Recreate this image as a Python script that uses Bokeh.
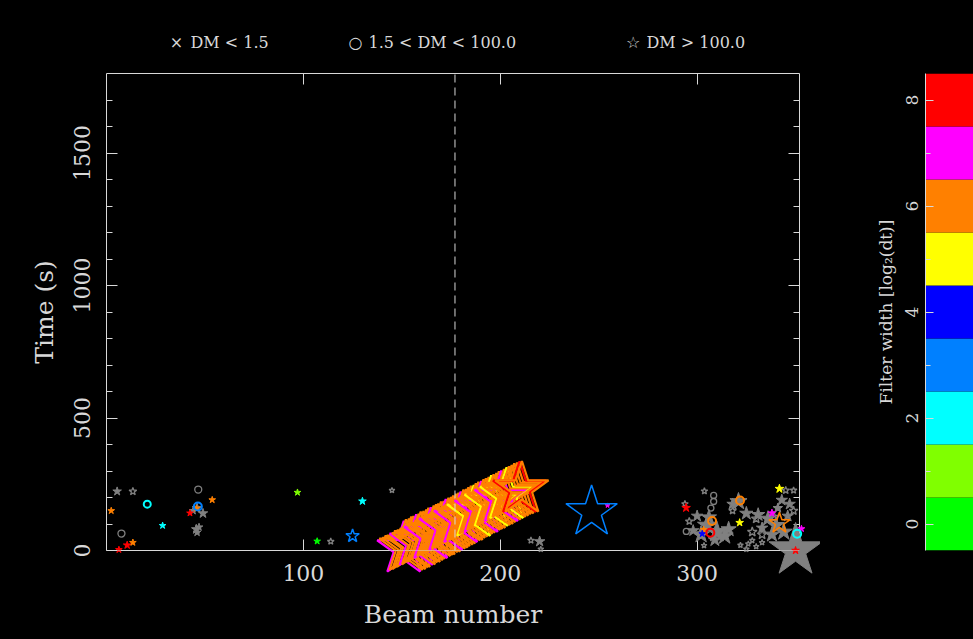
from bokeh.plotting import figure
from bokeh.layouts import row, column
from bokeh.models import (Range1d, LinearAxis, FixedTicker, Grid, Span,
                          CustomJSTickFormatter, ColumnDataSource)
from bokeh.core.properties import value
from bokeh.embed import file_html
from bokeh.resources import INLINE

# ---- palette: one colour per boxcar filter width, log2(dt) = 0 .. 8 ----
width_levels = [0, 1, 2, 3, 4, 5, 6, 7, 8]
width_colors = ["#00ff00", "#80ff00", "#00ffff", "#0080ff", "#0000ff",
                "#ffff00", "#ff8000", "#ff00ff", "#ff0000"]
GRAY = "#808080"          # candidates below the detection threshold
FG = "#d8d8d8"            # axes / text

# ---- candidates with DM > 100 (stars) ----
star_beam = [2.4, 28.5, 10.5, 13.4, 6.3, 53.7, 45.7, 42.4,
             97.0, 130.0, 107.0, 125.0, 246.4, 254.5,
             294.4, 303.3, 302.6, 321.6, 341.8, 338.0, 341.8, 353.0, 350.0]
star_time = [150, 94, 20, 30, 3, 191, 159, 141,
             219, 186, 35, 55, 145, 170,
             161, 79, 63, 105, 233, 141, 103, 82, 0]
star_snr = [3.5, 3.5, 4.0, 3.5, 3.5, 3.5, 3.5, 3.5,
            3.5, 4.0, 3.5, 7.0, 27.0, 2.5,
            4.5, 3.5, 3.5, 4.0, 4.5, 4.0, 11.0, 3.5, 4.0]
star_width = [6, 2, 8, 6, 8, 6, 6, 8,
              1, 2, 0, 3, 3, 7,
              8, 6, 4, 5, 5, 7, 6, 7, 8]

# sub-threshold stars, solid
gstar_beam = [5.4, 46.0, 49.0, 44.0, 45.6, 46.0, 47.0, 220.0,
              305.0, 310.0, 302.0, 314.0, 306.0, 300.0, 309.0, 316.0, 298.0,
              321.0, 318.0, 325.0, 331.0, 336.0, 340.0, 344.0, 333.0, 338.0,
              343.0, 347.0, 341.0, 346.0, 350.0]
gstar_time = [223, 160, 140, 150, 80, 68, 88, 34,
              95, 70, 60, 55, 125, 130, 40, 80, 75,
              185, 175, 140, 135, 120, 95, 70, 85, 60,
              190, 175, 160, 130, 0]
gstar_snr = [4.5, 5.0, 5.0, 4.0, 5.0, 4.0, 4.0, 5.5,
             10.0, 11.0, 9.0, 9.0, 8.0, 6.0, 7.0, 8.0, 6.0,
             9.0, 6.0, 7.0, 7.0, 8.0, 9.0, 9.0, 6.0, 8.0,
             6.0, 6.0, 5.0, 6.0, 28.0]

# sub-threshold stars, open
ostar_beam = [13.4, 145.0, 113.9, 215.6, 220.6, 293.8, 303.7, 303.5,
              330.0, 328.0, 333.0, 339.0, 345.0, 349.0, 341.0, 349.0,
              322.0, 326.0, 330.0, 325.0, 333.0, 328.0, 318.0, 296.0]
ostar_time = [223, 227, 34, 38, 5, 176, 224, 19,
              120, 70, 60, 125, 227, 227, 160, 150,
              20, 25, 15, 5, 30, 38, 150, 110]
ostar_snr = [4.0, 3.0, 3.5, 3.5, 3.0, 3.5, 3.5, 3.0,
             5.0, 5.0, 5.0, 6.0, 4.0, 3.5, 4.0, 4.5,
             3.0, 3.0, 3.0, 3.0, 3.0, 3.0, 4.0, 4.0]

# ---- bright sweep of wide-filter hits across beams 150-211 ----
sweep_beam = [151.0, 152.1, 153.6, 154.8, 155.9, 157.3, 158.5, 159.6, 161.0,
              162.4, 163.5, 164.7, 166.2, 167.4, 168.5, 169.9, 171.2, 172.3,
              173.7, 175.0, 176.1, 177.6, 178.8, 179.9, 181.3, 182.6, 183.8,
              185.1, 186.5, 187.6, 188.9, 190.3, 191.5, 192.7, 194.1, 195.4,
              196.6, 198.0, 199.3, 200.5, 201.9, 203.2, 204.4, 205.8, 207.1,
              208.5, 209.8, 211.0]
sweep_time = [6, 12, 15, 22, 24, 31, 33, 41, 43,
              49, 55, 57, 64, 69, 71, 79, 81, 88,
              93, 96, 102, 108, 112, 117, 124, 126, 133,
              138, 141, 148, 153, 156, 163, 167, 171, 178,
              182, 186, 193, 196, 202, 208, 212, 217, 223,
              226, 231, 232]
sweep_snr = [28.0] * 48
sweep_width = [7, 6, 6, 6, 6, 7, 6, 6, 6,
               6, 6, 7, 6, 6, 6, 6, 6, 7,
               6, 6, 6, 6, 6, 7, 6, 6, 6,
               6, 5, 6, 6, 7, 6, 6, 6, 5,
               6, 6, 6, 7, 6, 5, 6, 6, 6,
               6, 8, 6]

# ---- candidates with 1.5 < DM < 100 (circles) ----
circ_beam = [20.7, 46.4, 307.6, 306.7, 321.8, 350.8]
circ_time = [175, 166, 111, 67, 189, 63]
circ_snr = [3.5, 4.0, 4.0, 4.0, 4.0, 4.0]
circ_width = [2, 3, 6, 8, 6, 2]

gcirc_beam = [7.6, 46.6, 294.5, 308.4, 308.4, 307.0]
gcirc_time = [64, 230, 72, 208, 185, 160]
gcirc_snr = [3.5, 3.5, 3.0, 3.0, 3.0, 3.0]

divider_beam = [177]

# DM classes shown in the key
key_symbols = ["×", "○", "☆"]
key_texts = ["DM < 1.5", "1.5 < DM < 100.0", "DM > 100.0"]

BEAM_MAX = 352
TIME_MAX = 1800
SNR_TO_PX = 2.0
FONT = "DejaVu Serif"
BLACK = {"background-color": "#000000"}


def px(snr):
    return [s * SNR_TO_PX for s in snr]


def colours(widths):
    return [GRAY if w < 0 else width_colors[w] for w in widths]


def no_grid(fig):
    for r in list(fig.center):
        if isinstance(r, Grid):
            r.visible = False


def style(ax, tin, minor_in=0):
    ax.axis_line_color = FG
    ax.major_tick_line_color = FG
    ax.minor_tick_line_color = FG
    ax.major_tick_in = tin
    ax.major_tick_out = 0
    ax.minor_tick_in = minor_in
    ax.minor_tick_out = 0
    ax.major_label_text_color = FG
    ax.major_label_text_font = FONT
    ax.major_label_text_font_size = "22px"
    ax.axis_label_text_color = FG
    ax.axis_label_text_font = FONT
    ax.axis_label_text_font_size = "25px"
    ax.axis_label_text_font_style = "normal"


def panel(**kw):
    return figure(toolbar_location=None, output_backend="svg",
                  x_axis_location=None, y_axis_location=None,
                  background_fill_color="black", border_fill_color="black",
                  outline_line_color=None, styles=BLACK, **kw)


blank = CustomJSTickFormatter(code="return ''")
KEY_H = 55
BODY_H = 639 - KEY_H

# ---- key strip above the plot ----
key = panel(width=973, height=KEY_H, x_range=Range1d(0, 973), y_range=Range1d(0, KEY_H),
            min_border=0)
no_grid(key)
key.text(x=[176, 355, 632], y=[13, 13, 13], text=key_symbols,
         text_font=value(FONT), text_font_size=value("16px"), text_color=FG,
         text_align="center", text_baseline="middle")
key.text(x=[190, 368, 646], y=[13, 13, 13], text=key_texts,
         text_font=value(FONT), text_font_size=value("16px"), text_color=FG,
         text_align="left", text_baseline="middle")

# ---- main panel ----
p = panel(width=820, height=BODY_H, x_range=Range1d(0, BEAM_MAX), y_range=Range1d(0, TIME_MAX),
          min_border_left=106, min_border_right=21, min_border_top=73 - KEY_H,
          min_border_bottom=89)
no_grid(p)

beam_ticker = FixedTicker(ticks=[100, 200, 300], minor_ticks=[])
time_ticker = FixedTicker(ticks=[0, 500, 1000, 1500], minor_ticks=list(range(100, TIME_MAX, 100)))

ax_b = LinearAxis(ticker=beam_ticker, axis_label="Beam number",
                  major_label_standoff=14, axis_label_standoff=16)
style(ax_b, 11)
p.add_layout(ax_b, "below")

ax_t = LinearAxis(ticker=beam_ticker, formatter=blank, major_label_standoff=0)
style(ax_t, 11)
ax_t.major_label_text_font_size = "1px"
p.add_layout(ax_t, "above")

ax_l = LinearAxis(ticker=time_ticker, axis_label="Time (s)",
                  major_label_orientation="vertical", major_label_standoff=17,
                  axis_label_standoff=12)
style(ax_l, 11, 6)
p.add_layout(ax_l, "left")

ax_r = LinearAxis(ticker=time_ticker, formatter=blank, major_label_standoff=0)
style(ax_r, 11, 6)
ax_r.major_label_text_font_size = "1px"
p.add_layout(ax_r, "right")

LVL = "overlay"   # markers may spill past the frame edge

p.scatter(x=gstar_beam, y=gstar_time, size=px(gstar_snr), marker="star",
          fill_color=GRAY, line_color=GRAY, line_width=1, level=LVL)
p.scatter(x=ostar_beam, y=ostar_time, size=px(ostar_snr), marker="star",
          fill_color=None, line_color=GRAY, line_width=1.3, level=LVL)
p.scatter(x=gcirc_beam, y=gcirc_time, size=px(gcirc_snr), marker="circle",
          fill_color=None, line_color=GRAY, line_width=1.3, level=LVL)

p.scatter(x=sweep_beam, y=sweep_time, size=px(sweep_snr), marker="star",
          fill_color=None, line_color=colours(sweep_width), line_width=2.2, level=LVL)

small = [s <= 5 for s in star_snr]
src_small = ColumnDataSource(dict(
    x=[b for b, k in zip(star_beam, small) if k],
    y=[t for t, k in zip(star_time, small) if k],
    s=[v * SNR_TO_PX for v, k in zip(star_snr, small) if k],
    c=[c for c, k in zip(colours(star_width), small) if k]))
src_big = ColumnDataSource(dict(
    x=[b for b, k in zip(star_beam, small) if not k],
    y=[t for t, k in zip(star_time, small) if not k],
    s=[v * SNR_TO_PX for v, k in zip(star_snr, small) if not k],
    c=[c for c, k in zip(colours(star_width), small) if not k]))
p.scatter(x="x", y="y", size="s", marker="star", source=src_small,
          fill_color="c", line_color="c", line_width=1, level=LVL)
p.scatter(x="x", y="y", size="s", marker="star", source=src_big,
          fill_color=None, line_color="c", line_width=1.5, level=LVL)
p.scatter(x=circ_beam, y=circ_time, size=px(circ_snr), marker="circle",
          fill_color=None, line_color=colours(circ_width), line_width=2, level=LVL)

# beam divider and the time-zero line redrawn over the markers
p.segment(x0=divider_beam, y0=[0] * len(divider_beam), x1=divider_beam,
          y1=[TIME_MAX] * len(divider_beam), line_color=FG, line_width=1,
          line_dash="8 5", level=LVL)
p.add_layout(Span(location=0, dimension="width", line_color=FG, line_width=1, level=LVL))

# ---- colour bar ----
cb = panel(width=153, height=BODY_H, x_range=Range1d(0, 1), y_range=Range1d(-0.5, 8.5),
           min_border_left=105, min_border_right=0, min_border_top=73 - KEY_H,
           min_border_bottom=89)
no_grid(cb)
cb.quad(left=0, right=1, bottom=[l - 0.5 for l in width_levels],
        top=[l + 0.5 for l in width_levels], fill_color=width_colors, line_color=None)
cb_ax = LinearAxis(ticker=FixedTicker(ticks=[0, 2, 4, 6, 8], minor_ticks=[1, 3, 5, 7]),
                   axis_label="Filter width [log₂(dt)]", major_label_orientation="vertical",
                   major_label_standoff=8, axis_label_standoff=7)
style(cb_ax, 8, 5)
cb_ax.major_label_text_font_size = "17px"
cb_ax.axis_label_text_font_size = "17px"
cb.add_layout(cb_ax, "left")

layout = column(key, row(p, cb, styles=BLACK), styles=BLACK)
html = file_html(layout, INLINE)
# black page behind the canvases
html = html.replace("</head>", "<style>html,body{margin:0;background:#000}</style></head>", 1)
open("out.html", "w").write(html)
